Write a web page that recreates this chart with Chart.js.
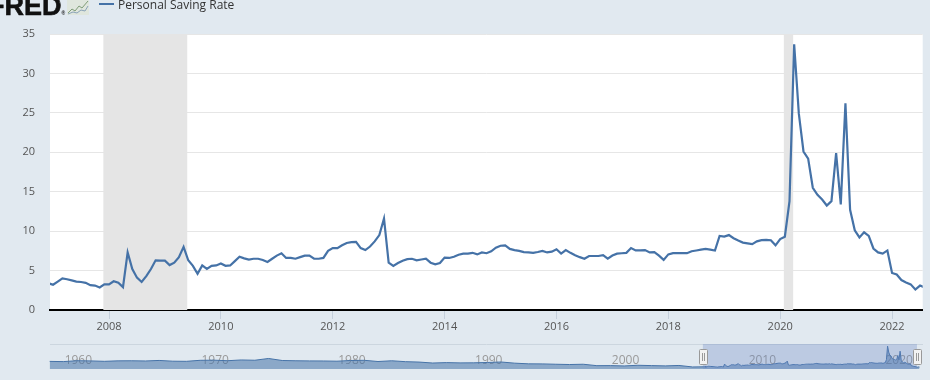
<!DOCTYPE html>
<html>
<head>
<meta charset="utf-8">
<title>Personal Saving Rate</title>
<script src="https://cdn.jsdelivr.net/npm/chart.js@4"></script>
<style>
  html, body { margin: 0; padding: 0; background: #e1e9f0; }
  #page { position: relative; width: 930px; height: 380px; overflow: hidden; font-family: "Open Sans", sans-serif; }
  #main { position: absolute; left: 0; top: 0; }
  #nav { position: absolute; left: 49px; top: 344px; }
  #logo { position: absolute; left: -12px; top: -9px; font: bold 27px "Liberation Sans", sans-serif; line-height: 31px; color: #111; -webkit-text-stroke: 0.6px #111; }
  #logo span { font-size: 5px; -webkit-text-stroke: 0; vertical-align: baseline; }
  #spark { position: absolute; left: 67px; top: 0; }
  #legend-line { position: absolute; left: 99px; top: 3px; width: 15px; height: 2px; background: #4572a7; }
  #legend-text { position: absolute; left: 118px; top: -4px; font-size: 12px; line-height: 17px; color: #333; }
  #y-title { position: absolute; left: -34px; top: 162px; width: 60px; text-align: center; font-size: 12px; line-height: 14px; color: #1f3d66; transform: rotate(-90deg); }
</style>
</head>
<body>
<div id="page">
  <canvas id="main" width="930" height="380"></canvas>
  <canvas id="nav" width="874" height="25"></canvas>
  <div id="logo">FRED<span>®</span></div>
  <svg id="spark" width="22" height="15">
    <rect x="0" y="0" width="22" height="15" fill="#dfe6dd"/>
    <polyline points="1,13 5,9 8,11 12,6 15,8 21,1" fill="none" stroke="#7f9c78" stroke-width="1"/>
    <polyline points="1,14 6,12 10,13 14,10 18,11 21,6" fill="none" stroke="#8aa3b8" stroke-width="1"/>
  </svg>
  <div id="legend-line"></div>
  <div id="legend-text">Personal Saving Rate</div>
  <div id="y-title">Percent</div>
</div>

<script>
// Monthly values, first one is Dec 2006
const firstMonth = 2006 + 11 / 12;
const savingRate = [
  3.4,
  3.2, 3.6, 4.0, 3.9, 3.75, 3.6, 3.55, 3.45, 3.15, 3.1, 2.85, 3.25,
  3.25, 3.65, 3.45, 2.9, 7.3, 5.2, 4.1, 3.55, 4.3, 5.2, 6.3, 6.25,
  6.25, 5.7, 6.0, 6.7, 8.0, 6.3, 5.6, 4.6, 5.65, 5.2, 5.6, 5.65,
  5.9, 5.6, 5.65, 6.2, 6.75, 6.55, 6.4, 6.5, 6.5, 6.35, 6.1, 6.5,
  6.9, 7.2, 6.6, 6.6, 6.5, 6.7, 6.9, 6.9, 6.5, 6.5, 6.6, 7.5,
  7.85, 7.85, 8.2, 8.5, 8.6, 8.65, 7.85, 7.6, 8.05, 8.7, 9.5, 11.6,
  6.0, 5.6, 5.95, 6.25, 6.45, 6.5, 6.3, 6.4, 6.5, 6.0, 5.8, 5.95,
  6.65, 6.6, 6.75, 7.0, 7.15, 7.15, 7.25, 7.05, 7.3, 7.2, 7.45, 7.9,
  8.15, 8.2, 7.75, 7.6, 7.5, 7.35, 7.3, 7.25, 7.35, 7.5, 7.3, 7.4,
  7.7, 7.15, 7.6, 7.25, 6.95, 6.7, 6.5, 6.85, 6.85, 6.85, 6.95, 6.5,
  6.9, 7.15, 7.2, 7.25, 7.85, 7.55, 7.55, 7.6, 7.3, 7.35, 6.9, 6.35,
  7.05, 7.2, 7.2, 7.2, 7.2, 7.45, 7.55, 7.65, 7.75, 7.65, 7.55, 9.4,
  9.3, 9.5, 9.1, 8.8, 8.55, 8.45, 8.35, 8.7, 8.85, 8.9, 8.85, 8.2,
  9.0, 9.3, 13.8, 33.7, 24.9, 20.1, 19.2, 15.5, 14.6, 14.0, 13.25, 13.8,
  19.9, 13.4, 26.2, 12.7, 10.1, 9.2, 9.85, 9.4, 7.8, 7.3, 7.15, 7.55,
  4.7, 4.5, 3.8, 3.5, 3.25, 2.6, 3.1, 2.85
];

// Navigator: yearly values before the monthly series starts
const navFirstYear = 1959;
const navEarlier = [
  11.2, 10.9, 12.2, 11.9, 11.3, 12.0, 12.1, 11.8, 12.6, 11.5, 11.3,
  12.8, 13.0, 12.2, 13.3, 12.9, 15.5, 12.5, 12.1, 11.9, 11.8,
  11.5, 12.5, 12.8, 11.0, 12.1, 10.8, 10.2, 8.8, 9.4, 9.0,
  9.1, 9.6, 10.3, 8.6, 7.6, 7.5, 7.0, 6.6, 7.0, 4.9,
  5.0, 4.5, 5.5, 5.0, 4.6, 5.2, 3.0, 3.3
];

const tickStep = 2;
const yTickStep = 5;
const recessions = [[2007 + 11 / 12, 2009 + 5 / 12], [2020 + 1 / 12, 2020 + 3 / 12]];
const navLabels = [1960, 1970, 1980, 1990, 2000, 2010, 2020];
const selectedRange = [2006.75, 2022.4];

const mainPoints = savingRate.map((v, i) => ({ x: firstMonth + i / 12, y: v }));
const navPoints = navEarlier.map((v, i) => ({ x: navFirstYear + i, y: v })).concat(mainPoints);

// Fundo branco da area do grafico e faixas de recessao
const plotBackground = {
  id: "plotBackground",
  beforeDatasetsDraw(chart) {
    const { ctx, chartArea: a, scales: { x } } = chart;
    ctx.save();
    ctx.fillStyle = "#e5e5e5";
    recessions.forEach(([from, to]) => {
      ctx.fillRect(x.getPixelForValue(from) - 1, a.top, x.getPixelForValue(to) - x.getPixelForValue(from), a.bottom - a.top);
    });
    ctx.restore();
  },
  beforeDraw(chart) {
    const { ctx, chartArea: a } = chart;
    ctx.save();
    ctx.fillStyle = "#ffffff";
    ctx.fillRect(a.left, a.top, a.right - a.left, a.bottom - a.top);
    ctx.restore();
  }
};

new Chart(document.getElementById("main").getContext("2d"), {
  type: "line",
  data: {
    datasets: [{
      label: "Personal Saving Rate",
      data: mainPoints,
      borderColor: "#4572a7",
      borderWidth: 2.2,
      pointRadius: 0,
      tension: 0
    }]
  },
  options: {
    responsive: false,
    animation: false,
    layout: { padding: { top: 34, right: 7.3, left: 0, bottom: 0 } },
    plugins: { legend: { display: false }, tooltip: { enabled: false } },
    scales: {
      x: {
        type: "linear",
        min: 2006.945,
        max: 2022.548,
        afterFit: s => { s.height = 70; },
        border: { color: "#000000", width: 2 },
        grid: { drawOnChartArea: false, tickColor: "#c5d0dc", tickLength: 9, tickWidth: 1 },
        ticks: {
          stepSize: tickStep,
          includeBounds: false,
          autoSkip: false,
          maxRotation: 0,
          padding: 1,
          color: "#555",
          font: { family: "Open Sans", size: 11 },
          callback: v => String(v)
        }
      },
      y: {
        min: 0,
        max: 35,
        afterFit: s => { s.width = 50; },
        border: { display: false },
        grid: { color: "#e6e6e6", drawTicks: false },
        ticks: {
          stepSize: yTickStep,
          padding: 15,
          color: "#555",
          font: { family: "Open Sans", size: 11 }
        }
      }
    }
  },
  plugins: [plotBackground]
});

// Navegador: rotulos, mascara da selecao e alcas
const navDecor = {
  id: "navDecor",
  beforeDatasetsDraw(chart) {
    const { ctx, scales: { x } } = chart;
    ctx.save();
    ctx.font = "12px 'Open Sans'";
    ctx.fillStyle = "#999";
    ctx.textBaseline = "middle";
    ctx.textAlign = "center";
    navLabels.forEach(year => ctx.fillText(String(year), x.getPixelForValue(year) + 15, 17));
    ctx.strokeStyle = "#ccd6df";
    ctx.beginPath();
    ctx.moveTo(1, 0.5);
    ctx.lineTo(chart.width, 0.5);
    ctx.stroke();
    ctx.restore();
  },
  afterDatasetsDraw(chart) {
    const { ctx, scales: { x } } = chart;
    const from = x.getPixelForValue(selectedRange[0]);
    const to = x.getPixelForValue(selectedRange[1]);
    ctx.save();
    ctx.fillStyle = "rgba(102,133,194,0.3)";
    ctx.fillRect(from, 0, to - from, chart.height);
    [from, to].forEach(px => {
      const left = Math.round(px) - 4;
      ctx.fillStyle = "#f2f2f2";
      ctx.strokeStyle = "#999";
      ctx.beginPath();
      ctx.roundRect(left + 0.5, 5.5, 8, 15, 1);
      ctx.fill();
      ctx.stroke();
      ctx.beginPath();
      ctx.moveTo(left + 3.5, 9);
      ctx.lineTo(left + 3.5, 17);
      ctx.moveTo(left + 5.5, 9);
      ctx.lineTo(left + 5.5, 17);
      ctx.stroke();
    });
    ctx.restore();
  }
};

new Chart(document.getElementById("nav").getContext("2d"), {
  type: "line",
  data: {
    datasets: [{
      data: navPoints,
      borderColor: "#4572a7",
      borderWidth: 1,
      backgroundColor: "rgba(69,114,167,0.55)",
      fill: "origin",
      pointRadius: 0,
      tension: 0
    }]
  },
  options: {
    responsive: false,
    animation: false,
    plugins: { legend: { display: false }, tooltip: { enabled: false } },
    scales: {
      x: { type: "linear", display: false, min: 1958.95, max: 2022.84 },
      y: { display: false, min: 0, max: 36.8 }
    }
  },
  plugins: [navDecor]
});
</script>
</body>
</html>
